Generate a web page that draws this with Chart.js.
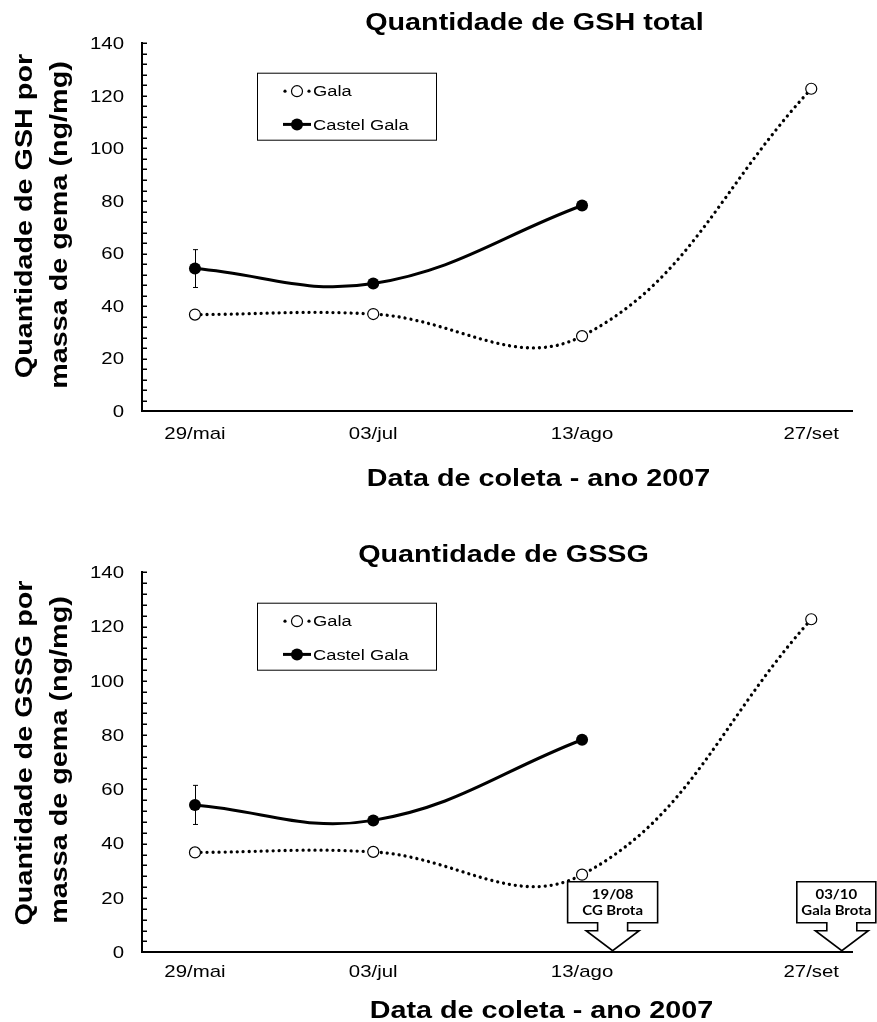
<!DOCTYPE html>
<html>
<head>
<meta charset="utf-8">
<script src="https://cdn.jsdelivr.net/npm/chart.js@4/dist/chart.umd.min.js"></script>
<style>
  html, body { margin: 0; padding: 0; background: #fff; }
  #wrap { position: relative; width: 877px; height: 1022px; }
  canvas { position: absolute; left: 0; }
</style>
</head>
<body>
<div id="wrap">
  <canvas id="gsh" width="877" height="511" style="top:0"></canvas>
  <canvas id="gssg" width="877" height="511" style="top:511px"></canvas>
</div>
<script>
// Collection dates (day of year, 2007) and their axis labels
const dateLabels = ['29/mai', '03/jul', '13/ago', '27/set'];
const collectionDays = [149, 184, 225, 270];

// Glutathione per bud mass (ng/mg)
const galaValues = [36.8, 37.0, 28.6, 122.7];
const castelValues = [54.3, 48.6, 78.3];
const castelErrors = [7.2, 0, 0];

// Y axis: major labels every 20, minor marks every 4
const yMin = 0, yMax = 140, yMinorStep = 4, yMajorStep = 20;

// Sprouting dates shown as callouts on the GSSG chart
const sproutDays = [231, 276];
const sproutTexts = [['19/08', 'CG Brota'], ['03/10', 'Gala Brota']];

const FONT = '"Liberation Sans", Arial, sans-serif';
const BOLD = 'bold 23px ' + FONT;
const BOLD_SX = 1.25;
const TICK = '17px ' + FONT;
const TICK_SX = 1.2;
const LEG = '15.5px ' + FONT;
const LEG_SX = 1.18;

function drawText(ctx, text, x, y, font, sx, align, baseline, angle) {
  ctx.save();
  ctx.translate(x, y);
  if (angle) ctx.rotate(angle);
  ctx.scale(sx, 1);
  ctx.font = font;
  ctx.textAlign = align;
  ctx.textBaseline = baseline;
  ctx.fillStyle = '#000';
  ctx.fillText(text, 0, 0);
  ctx.restore();
}

const decor = {
  id: 'decor',
  afterDatasetsDraw(chart) {
    const ctx = chart.ctx;
    const cfg = chart.options.plugins.decor;
    const xs = chart.scales.x, ys = chart.scales.y;
    const area = chart.chartArea;

    // error bars on Castel Gala
    ctx.save();
    ctx.strokeStyle = '#000';
    ctx.lineWidth = 1;
    castelValues.forEach((v, i) => {
      const e = castelErrors[i];
      if (!e) return;
      const px = Math.round(xs.getPixelForValue(collectionDays[i])) + 0.5;
      const top = ys.getPixelForValue(v + e), bot = ys.getPixelForValue(v - e);
      ctx.beginPath();
      ctx.moveTo(px, top); ctx.lineTo(px, bot);
      ctx.moveTo(px - 2.5, top); ctx.lineTo(px + 2.5, top);
      ctx.moveTo(px - 2.5, bot); ctx.lineTo(px + 2.5, bot);
      ctx.stroke();
    });
    ctx.restore();

    // inner tick marks on the y axis
    ctx.save();
    ctx.strokeStyle = '#000';
    ctx.lineWidth = 1.5;
    ys.ticks.forEach(t => {
      const py = Math.round(ys.getPixelForValue(t.value)) + 0.25;
      ctx.beginPath();
      ctx.moveTo(area.left, py); ctx.lineTo(area.left + 5, py);
      ctx.stroke();
    });
    ctx.restore();

    // y tick labels
    ys.ticks.forEach(t => {
      if (t.value % yMajorStep !== 0) return;
      drawText(ctx, String(t.value), 124, ys.getPixelForValue(t.value) + 1, TICK, TICK_SX, 'right', 'middle');
    });

    // x tick labels
    dateLabels.forEach((lab, i) => {
      drawText(ctx, lab, xs.getPixelForValue(collectionDays[i]), area.bottom + cfg.xLabelDy, TICK, TICK_SX, 'center', 'alphabetic');
    });

    // titles
    drawText(ctx, cfg.title, cfg.titleX, cfg.titleY, BOLD, BOLD_SX, 'center', 'alphabetic');
    drawText(ctx, 'Data de coleta - ano 2007', cfg.xTitleX, cfg.xTitleY, BOLD, BOLD_SX, 'center', 'alphabetic');
    cfg.yTitle.forEach((line, i) => {
      drawText(ctx, line, cfg.yTitleX[i], cfg.yTitleC[i], BOLD, BOLD_SX, 'center', 'alphabetic', -Math.PI / 2);
    });

    // sprout callouts
    if (cfg.callouts) {
      sproutDays.forEach((d, i) => {
        const tx = xs.getPixelForValue(d);
        const ty = area.bottom - 1.6;
        const [bl, br] = cfg.calloutBox[i];
        const boxTop = ty - 69, boxBot = ty - 28, wingY = ty - 20;
        ctx.save();
        ctx.beginPath();
        ctx.moveTo(tx + bl, boxTop);
        ctx.lineTo(tx + br, boxTop);
        ctx.lineTo(tx + br, boxBot);
        ctx.lineTo(tx + 15, boxBot);
        ctx.lineTo(tx + 15, wingY);
        ctx.lineTo(tx + 26.5, wingY);
        ctx.lineTo(tx, ty);
        ctx.lineTo(tx - 26.5, wingY);
        ctx.lineTo(tx - 15, wingY);
        ctx.lineTo(tx - 15, boxBot);
        ctx.lineTo(tx + bl, boxBot);
        ctx.closePath();
        ctx.fillStyle = '#fff';
        ctx.fill();
        ctx.strokeStyle = '#000';
        ctx.lineWidth = 1.6;
        ctx.stroke();
        ctx.restore();
        const cx = tx + (bl + br) / 2;
        const f = 'bold 13px Lato, "Open Sans", sans-serif';
        drawText(ctx, sproutTexts[i][0], cx, ty - 55.7, f, 1.15, 'center', 'middle');
        drawText(ctx, sproutTexts[i][1], cx, ty - 39.7, f, 1.15, 'center', 'middle');
      });
    }

    // legend
    const lt = cfg.legendTop;
    ctx.save();
    ctx.strokeStyle = '#000';
    ctx.lineWidth = 1;
    ctx.fillStyle = '#fff';
    ctx.fillRect(257.5, lt + 0.5, 179, 67);
    ctx.strokeRect(257.5, lt + 0.5, 179, 67);
    const r1 = lt + 18.5, r2 = lt + 51.7;
    ctx.fillStyle = '#000';
    [285, 309].forEach(x => { ctx.beginPath(); ctx.arc(x, r1, 1.6, 0, Math.PI * 2); ctx.fill(); });
    ctx.beginPath(); ctx.arc(297, r1, 5.5, 0, Math.PI * 2);
    ctx.fillStyle = '#fff'; ctx.fill(); ctx.lineWidth = 1.2; ctx.stroke();
    ctx.beginPath(); ctx.moveTo(283, r2); ctx.lineTo(311, r2);
    ctx.lineWidth = 3; ctx.stroke();
    ctx.beginPath(); ctx.arc(297, r2, 6, 0, Math.PI * 2);
    ctx.fillStyle = '#000'; ctx.fill();
    ctx.restore();
    drawText(ctx, 'Gala', 313, r1 + 1, LEG, LEG_SX, 'left', 'middle');
    drawText(ctx, 'Castel Gala', 313, r2 + 1, LEG, LEG_SX, 'left', 'middle');
  }
};

function makeChart(id, cfg) {
  const axisBorder = { display: true, color: '#000', width: 2 };
  return new Chart(document.getElementById(id), {
    type: 'line',
    data: {
      datasets: [
        {
          label: 'Gala',
          data: galaValues.map((v, i) => ({ x: collectionDays[i], y: v })),
          borderColor: '#000',
          borderWidth: 3.3,
          borderDash: [0.01, 6],
          borderCapStyle: 'round',
          tension: 0.4,
          pointRadius: 5.5,
          pointBorderWidth: 1.2,
          pointBorderColor: '#000',
          pointBackgroundColor: '#fff',
          fill: false
        },
        {
          label: 'Castel Gala',
          data: castelValues.map((v, i) => ({ x: collectionDays[i], y: v })),
          borderColor: '#000',
          borderWidth: 3,
          tension: 0.4,
          pointRadius: 6,
          pointBorderWidth: 0,
          pointBackgroundColor: '#000',
          fill: false
        }
      ]
    },
    options: {
      responsive: false,
      animation: false,
      events: [],
      layout: { padding: { top: cfg.padTop, right: 25, left: 0, bottom: 0 } },
      plugins: {
        legend: { display: false },
        title: { display: false },
        tooltip: { enabled: false },
        decor: cfg
      },
      scales: {
        x: {
          type: 'linear',
          min: 138.6,
          max: 278,
          grid: { display: false },
          border: axisBorder,
          ticks: { display: false },
          afterFit(s) { s.height = cfg.xAxisHeight; }
        },
        y: {
          min: yMin,
          max: yMax,
          ticks: { display: false, stepSize: yMinorStep },
          grid: { display: false },
          border: axisBorder,
          afterFit(s) { s.width = 142; }
        }
      }
    },
    plugins: [decor]
  });
}

makeChart('gsh', {
  padTop: 43.3,
  xAxisHeight: 99.7,
  title: 'Quantidade de GSH total',
  titleX: 534.5, titleY: 29.5,
  xTitleX: 538.5, xTitleY: 486,
  yTitle: ['Quantidade de GSH por', 'massa de gema (ng/mg)'],
  yTitleX: [32, 67], yTitleC: [216, 225],
  legendTop: 72.7,
  xLabelDy: 28,
  callouts: false
});

makeChart('gssg', {
  padTop: 61.3,
  xAxisHeight: 69.7,
  title: 'Quantidade de GSSG',
  titleX: 503.5, titleY: 50.5,
  xTitleX: 541.5, xTitleY: 507.3,
  yTitle: ['Quantidade de GSSG por', 'massa de gema (ng/mg)'],
  yTitleX: [32, 67], yTitleC: [242, 249],
  legendTop: 91.7,
  xLabelDy: 24.5,
  callouts: true,
  calloutBox: [[-45, 45], [-45, 34]]
});
</script>
</body>
</html>
